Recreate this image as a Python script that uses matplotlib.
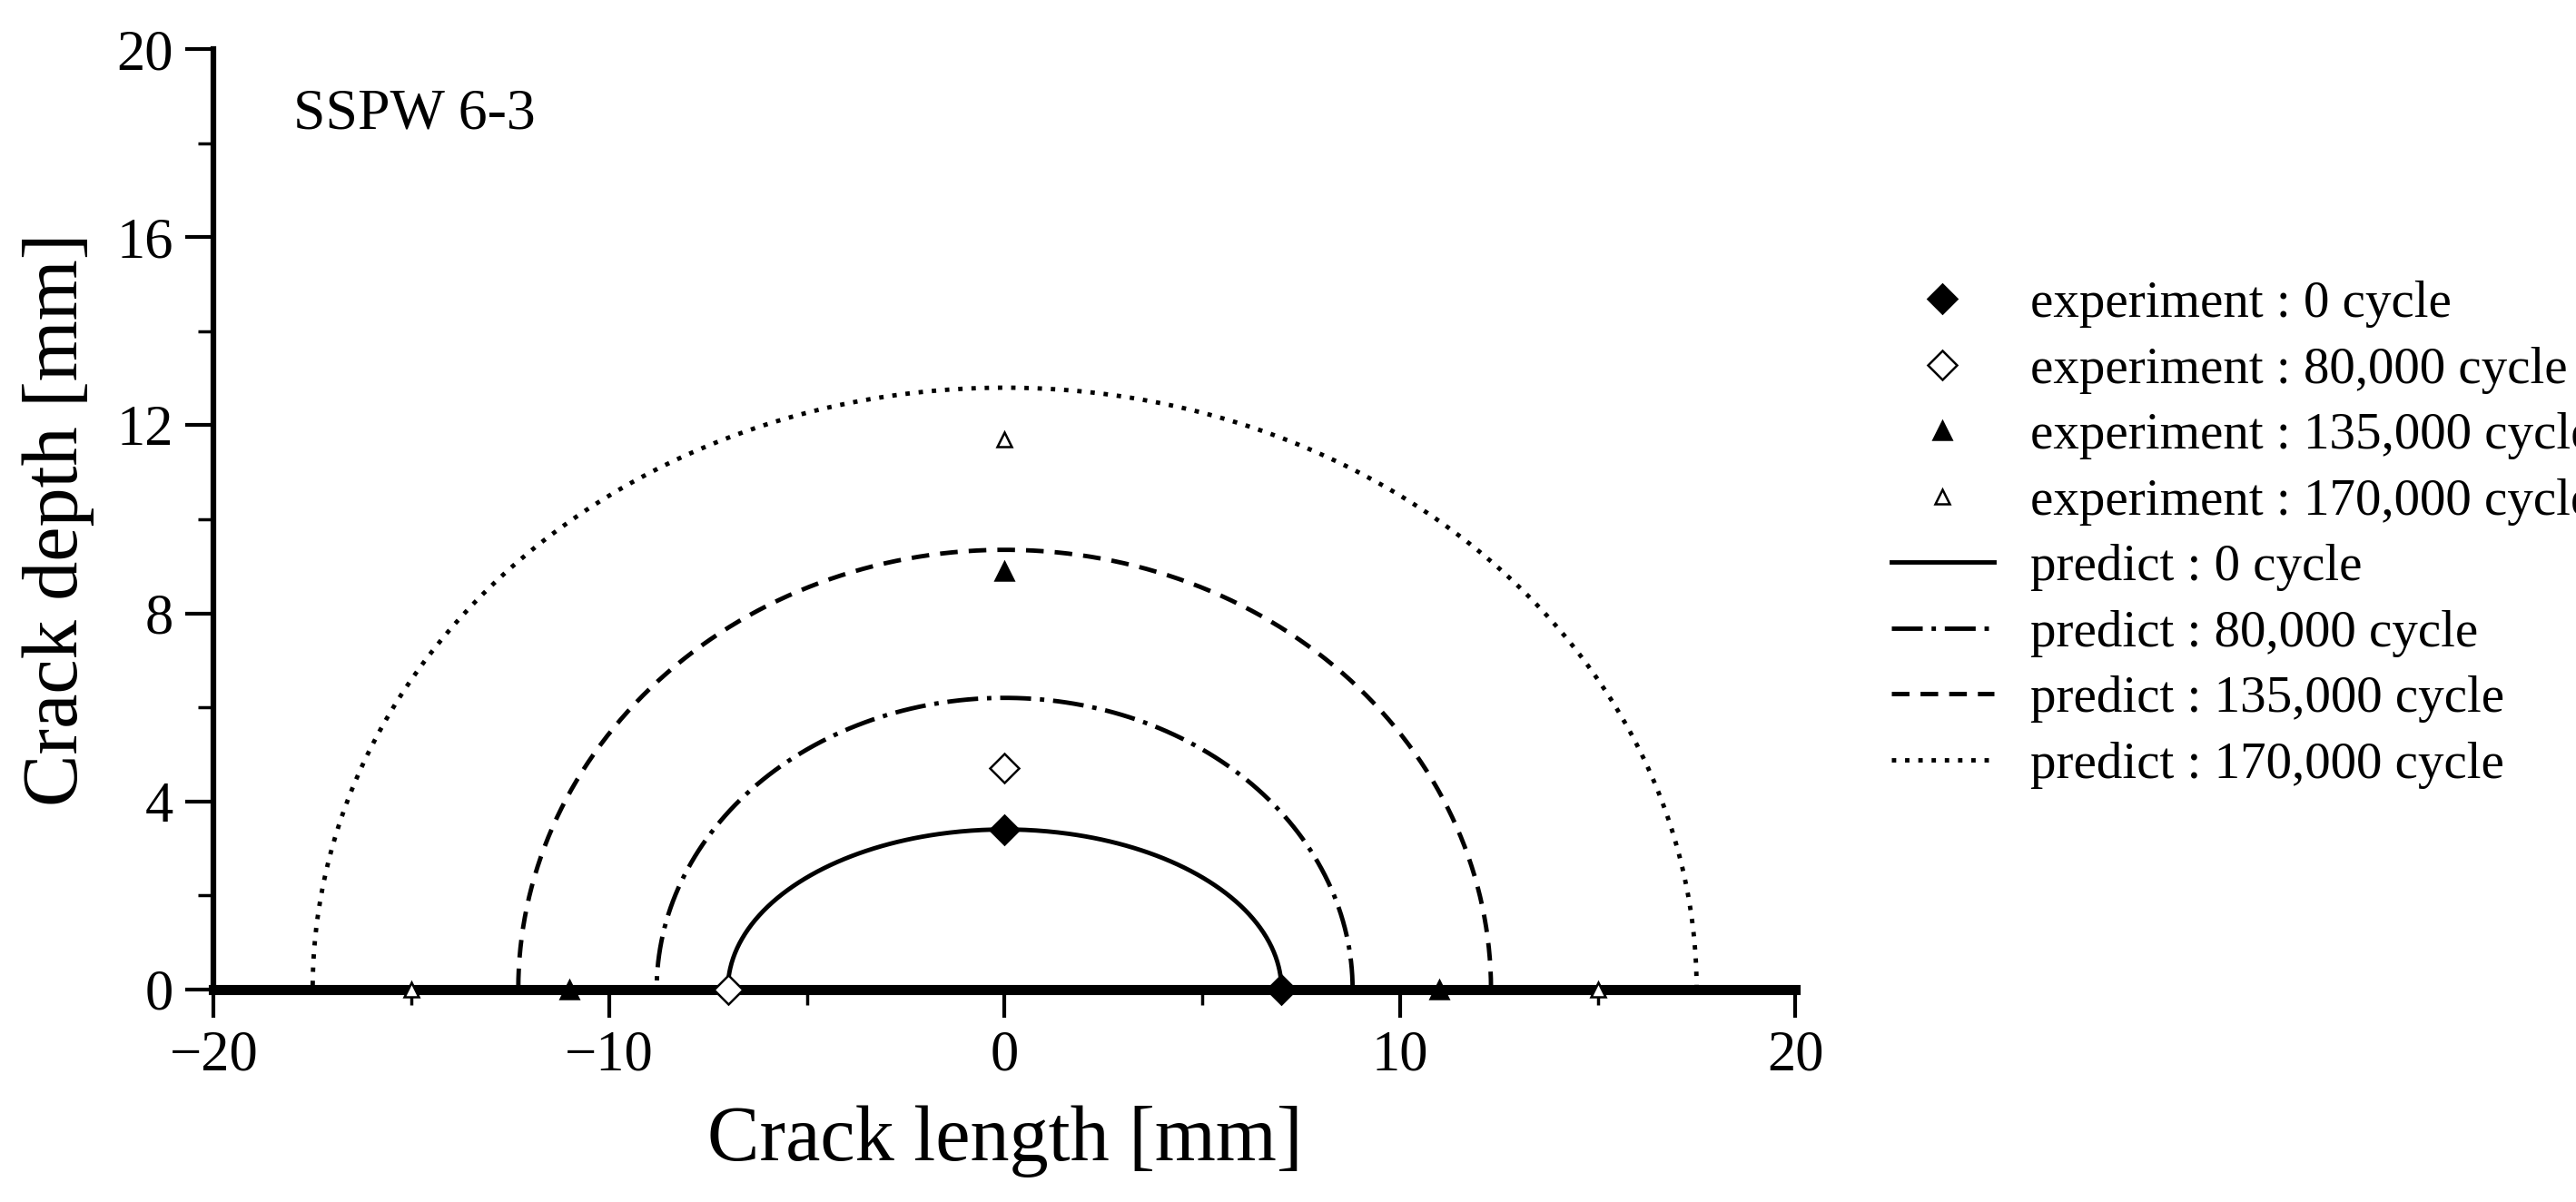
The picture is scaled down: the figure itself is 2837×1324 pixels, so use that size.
import numpy as np
import matplotlib.pyplot as plt
from matplotlib.ticker import MultipleLocator

plt.rcParams['font.family'] = ['Liberation Serif', 'DejaVu Serif']
plt.rcParams['mathtext.fontset'] = 'stix'

# Predicted crack fronts: half-length (mm) and depth (mm)
pred_labels = ['predict : 0 cycle', 'predict : 80,000 cycle',
               'predict : 135,000 cycle', 'predict : 170,000 cycle']
pred_half_len = [7.0, 8.8, 12.3, 17.5]
pred_depth = [3.4, 6.2, 9.35, 12.8]
pred_styles = ['-', (0, (7, 2, 1, 2)), (0, (4, 2.5)), (0, (1, 2))]

# Experiment points
exp_labels = ['experiment : 0 cycle', 'experiment : 80,000 cycle',
              'experiment : 135,000 cycle', 'experiment : 170,000 cycle']
exp_x = [[0, 7], [0, -7], [0, -11, 11], [0, -15, 15]]
exp_y = [[3.4, 0], [4.7, 0], [8.9, 0, 0], [11.7, 0, 0]]
exp_markers = ['D', 'D', '^', '^']
exp_fill = ['black', 'white', 'black', 'white']
exp_size = [16, 16, 15, 12]

fig = plt.figure(figsize=(28.37, 13.24), dpi=100)
ax = fig.add_axes([0.083, 0.177, 0.614, 0.782])

exp_handles = []
for xs, ys, m, fc, s, lab in zip(exp_x, exp_y, exp_markers, exp_fill, exp_size, exp_labels):
    h, = ax.plot(xs, ys, linestyle='none', marker=m, markersize=s, markerfacecolor=fc,
                 markeredgecolor='black', markeredgewidth=1.8, label=lab, zorder=4, clip_on=False)
    exp_handles.append(h)

pred_handles = []
t = np.linspace(0, np.pi, 400)
for a, b, ls, lab in zip(pred_half_len, pred_depth, pred_styles, pred_labels):
    h, = ax.plot(a * np.cos(t), b * np.sin(t), color='black', linestyle=ls, linewidth=3.5, label=lab)
    pred_handles.append(h)

ax.set_xlim(-20, 20)
ax.set_ylim(0, 20)
ax.xaxis.set_major_locator(MultipleLocator(10))
ax.xaxis.set_minor_locator(MultipleLocator(5))
ax.yaxis.set_major_locator(MultipleLocator(4))
ax.yaxis.set_minor_locator(MultipleLocator(2))
for s in ['top', 'right']:
    ax.spines[s].set_visible(False)
ax.spines['left'].set_linewidth(4.5)
ax.spines['bottom'].set_linewidth(8)
ax.tick_params(which='major', direction='out', length=22, width=3, labelsize=45, pad=10)
ax.tick_params(which='minor', direction='out', length=12, width=2.5)
ax.set_xlabel('Crack length [mm]', fontsize=62, labelpad=18)
ax.set_ylabel('Crack depth [mm]', fontsize=62, labelpad=18)
ax.text(-18.0, 18.6, 'SSPW 6-3', fontsize=46, ha='left', va='center')

fig.legend(handles=exp_handles + pred_handles, loc='upper left', bbox_to_anchor=(0.716, 0.805),
           frameon=False, fontsize=41, handlelength=2.0, labelspacing=0.36, handletextpad=0.7)

fig.savefig('out.png', dpi=100)
